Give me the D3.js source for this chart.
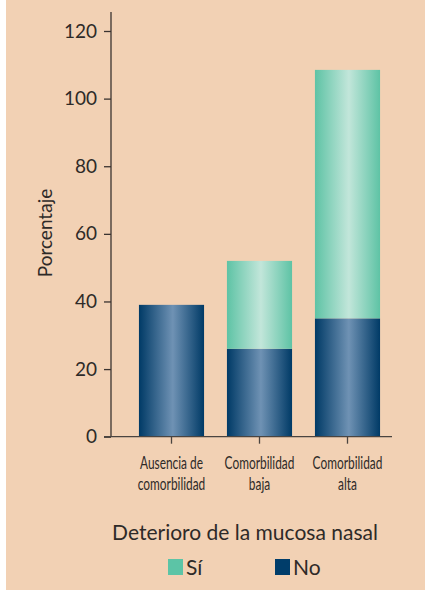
<!DOCTYPE html>
<html>
<head>
<meta charset="utf-8">
<script src="https://cdn.jsdelivr.net/npm/d3@7"></script>
<style>
  body { margin: 0; background: #fff; }
  svg { display: block; }
</style>
</head>
<body>
<svg id="chart"></svg>
<script>
// data
var categories = [["Ausencia de", "comorbilidad"], ["Comorbilidad", "baja"], ["Comorbilidad", "alta"]];
var noValues = [39, 26, 35];
var siValues = [0, 26, 73.5];
var yTicks = [0, 20, 40, 60, 80, 100, 120];
var seriesNames = ["Sí", "No"];

var width = 425, height = 590;
var font = "Lato, 'Open Sans', sans-serif";

var svg = d3.select('#chart')
  .attr('width', width)
  .attr('height', height);

svg.append('rect')
  .attr('x', 6).attr('y', 0)
  .attr('width', width - 6).attr('height', height)
  .style('fill', '#f2d1b4');

// gradients for the shiny bars
var defs = svg.append('defs');
function makeGrad(id, edge, mid) {
  var g = defs.append('linearGradient')
    .attr('id', id)
    .attr('x1', '0%').attr('x2', '100%')
    .attr('y1', '0%').attr('y2', '0%');
  g.append('stop').attr('offset', '0%').attr('stop-color', edge);
  g.append('stop').attr('offset', '52%').attr('stop-color', mid);
  g.append('stop').attr('offset', '100%').attr('stop-color', edge);
}
makeGrad('gradNo', '#003a66', '#6f92b4');
makeGrad('gradSi', '#5ec3a5', '#c2e6da');

var labels = categories.map(d => d.join(' '));

var xScale = d3.scaleBand()
  .domain(labels)
  .range([127.5, 391.5])
  .paddingInner(0.26)
  .paddingOuter(0.13);

var yScale = d3.scaleLinear()
  .domain([0, 120])
  .range([436.7, 31]);

var rows = labels.map((l, i) => ({ cat: l, no: noValues[i], si: siValues[i] }));

// No (bottom)
svg.selectAll('rect.no')
  .data(rows)
  .enter()
  .append('rect')
    .attr('class', 'no')
    .attr('x', d => xScale(d.cat))
    .attr('width', xScale.bandwidth())
    .attr('y', d => yScale(d.no))
    .attr('height', d => yScale(0) - yScale(d.no))
    .style('fill', 'url(#gradNo)');

// Sí (stacked on top)
svg.selectAll('rect.si')
  .data(rows.filter(d => d.si > 0))
  .enter()
  .append('rect')
    .attr('class', 'si')
    .attr('x', d => xScale(d.cat))
    .attr('width', xScale.bandwidth())
    .attr('y', d => yScale(d.no + d.si))
    .attr('height', d => yScale(d.no) - yScale(d.no + d.si))
    .style('fill', 'url(#gradSi)');

// y axis
var yAxis = d3.axisLeft(yScale)
  .tickValues(yTicks)
  .tickSize(7)
  .tickPadding(7)
  .tickSizeOuter(0);

var gy = svg.append('g')
  .attr('transform', 'translate(111,0)')
  .call(yAxis);
gy.select('.domain').attr('d', 'M0,' + 12 + 'V' + yScale(0));
gy.selectAll('line, path').style('stroke', '#3a3330').style('stroke-width', 1.3);
gy.selectAll('text')
  .style('font-family', font)
  .style('font-size', '19px')
  .style('fill', '#2e2a28');

// x axis
var xAxis = d3.axisBottom(xScale)
  .tickSize(7)
  .tickSizeOuter(0)
  .tickFormat('');

var gx = svg.append('g')
  .attr('transform', 'translate(0,' + yScale(0) + ')')
  .call(xAxis);
gx.select('.domain').attr('d', 'M104,0H392');
gx.selectAll('line, path').style('stroke', '#4a4440').style('stroke-width', 1.3);

// category labels (condensed)
var catText = svg.append('g').selectAll('text')
  .data(categories)
  .enter()
  .append('text')
    .attr('text-anchor', 'middle')
    .attr('transform', (d, i) => 'translate(' + (xScale(labels[i]) + xScale.bandwidth() / 2) + ',0) scale(0.68,1)')
    .style('font-family', font)
    .style('font-size', '17.5px')
    .style('fill', '#2e2a28');
catText.each(function(d) {
  var t = d3.select(this);
  d.forEach((line, j) => {
    t.append('tspan')
      .attr('x', 0)
      .attr('y', 469 + j * 21)
      .text(line);
  });
});

// y label
svg.append('text')
  .attr('transform', 'translate(52,233) rotate(-90)')
  .attr('text-anchor', 'middle')
  .style('font-family', font)
  .style('font-size', '19px')
  .style('fill', '#2e2a28')
  .text('Porcentaje');

// title / legend
svg.append('text')
  .attr('x', 245)
  .attr('y', 540)
  .attr('text-anchor', 'middle')
  .style('font-family', font)
  .style('font-size', '21px')
  .style('fill', '#2e2a28')
  .text('Deterioro de la mucosa nasal');

var legendX = [168, 275];
var legendColors = ['#5cc4a6', '#003d6a'];
var leg = svg.selectAll('g.legend')
  .data(seriesNames)
  .enter()
  .append('g')
    .attr('class', 'legend')
    .attr('transform', (d, i) => 'translate(' + legendX[i] + ',559)');
leg.append('rect')
  .attr('width', 15)
  .attr('height', 16)
  .style('fill', (d, i) => legendColors[i]);
leg.append('text')
  .attr('x', 18)
  .attr('y', 16)
  .style('font-family', font)
  .style('font-size', '21px')
  .style('fill', '#2e2a28')
  .text(d => d);
</script>
</body>
</html>
